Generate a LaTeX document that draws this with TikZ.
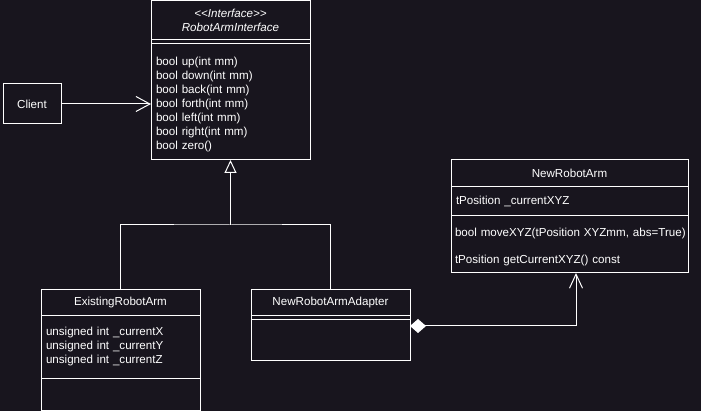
\documentclass[tikz,border=0pt]{standalone}
\usepackage{fontspec}
\setmainfont{Liberation Sans}
\setsansfont{Liberation Sans}
\usetikzlibrary{arrows.meta,positioning}
\definecolor{bg}{HTML}{18151E}
\newcommand{\umlfont}{\fontsize{11.6}{14}\selectfont}
\tikzset{
  umlbox/.style={draw=white, fill=bg, line width=1pt, outer sep=0pt, inner sep=0pt,
    anchor=north west, text=white, font=\umlfont, align=center},
  umllist/.style={umlbox, align=left, inner xsep=5pt, text width=#1},
  assoc/.style={draw=white, line width=1pt, -{Straight Barb[length=14pt,width=15pt]}},
  inherit/.style={draw=white, line width=1pt, -{Triangle[open,length=13pt,width=12pt,fill=bg]}},
  compose/.style={draw=white, line width=1pt,
    {Diamond[length=16pt,width=14pt]}-{Straight Barb[length=14pt,width=13pt]}}
}
\begin{document}
\begin{tikzpicture}[x=1pt,y=-1pt]
  \fill[bg] (0,0) rectangle (701,411);
  \useasboundingbox (0,0) rectangle (701,411);

  % interface
  \node[umlbox, minimum width=159pt, minimum height=39pt] (ifaceHead) at (151,1)
    {\textit{<\kern0pt<Interface>\kern0pt>}\\\textit{RobotArmInterface}};
  \node[umlbox, minimum width=159pt, minimum height=4pt, below=0pt of ifaceHead] (ifaceSep) {};
  \node[umllist=149pt, minimum height=116pt, below=0pt of ifaceSep] (ifaceBody)
    {\rule{0pt}{14pt}bool up(int mm)\\bool down(int mm)\\bool back(int mm)\\bool forth(int mm)\\
     bool left(int mm)\\bool right(int mm)\\bool zero()};

  \node[umlbox, minimum width=58pt, minimum height=40pt] (client) at (3,84) {Client};

  % adaptee
  \node[umlbox, minimum width=237pt, minimum height=27pt] (newHead) at (451,160) {NewRobotArm};
  \node[umllist=227pt, minimum height=29pt, below=0pt of newHead] (newAttr) {tPosition \_currentXYZ};
  \node[umllist=229pt, inner xsep=4pt, minimum height=57pt, below=0pt of newAttr] (newOps)
    {\rule{0pt}{14pt}\mbox{bool moveXYZ(tPosition XYZmm, abs=True)}\\[13pt]tPosition getCurrentXYZ() const};

  % implementations
  \node[umlbox, minimum width=159pt, minimum height=26pt] (existHead) at (41,290) {ExistingRobotArm};
  \node[umllist=149pt, minimum height=62pt, below=0pt of existHead] (existAttr)
    {unsigned int \_currentX\\unsigned int \_currentY\\unsigned int \_currentZ};
  \node[umlbox, minimum width=159pt, minimum height=32pt, below=0pt of existAttr] (existOps) {};

  \node[umlbox, minimum width=159pt, minimum height=26pt] (adaptHead) at (251,290) {NewRobotArmAdapter};
  \node[umlbox, minimum width=159pt, minimum height=4pt, below=0pt of adaptHead] (adaptSep) {};
  \node[umlbox, minimum width=159pt, minimum height=40pt, below=0pt of adaptSep] (adaptBody) {};

  % connectors
  \draw[assoc] (client.east) -- (client.east -| ifaceBody.west);
  \coordinate (fork) at (ifaceBody.south |- 0,225);
  \draw[inherit] (fork) -- (ifaceBody.south);
  \draw[draw=white, line width=1pt] (existHead.north) |- (fork) -| (adaptHead.north);
  \draw[compose] ([yshift=-6pt]adaptBody.north east) -| ([xshift=6.5pt]newOps.south);
\end{tikzpicture}
\end{document}
